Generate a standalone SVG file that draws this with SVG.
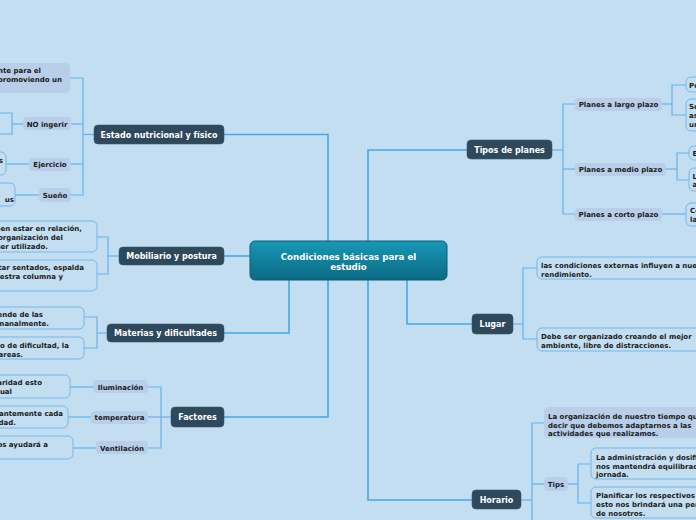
<svg xmlns="http://www.w3.org/2000/svg" width="696" height="520" viewBox="0 0 696 520">
<defs>
<linearGradient id="cg" x1="0" y1="0" x2="0" y2="1">
<stop offset="0" stop-color="#1798b6"/>
<stop offset="1" stop-color="#0b6983"/>
</linearGradient>
<style>
.conn path{fill:none;stroke:#62b3eb;stroke-width:1.2}
.conn path.m{stroke:#45a6ea;stroke-width:1.6}
.topic rect{fill:#2d495b;stroke:#3e5a6c;stroke-width:0.6}
.topic text{fill:#ffffff;font-family:"DejaVu Sans",Verdana,sans-serif;font-weight:bold;font-size:8px;text-anchor:middle}
.sub rect{fill:#b8cee9}
.leaf rect{fill:#c4def1;stroke:#74b8ec;stroke-width:1}
.t{fill:#1b1b1b;font-family:"DejaVu Sans",Verdana,sans-serif;font-weight:bold;font-size:7px}
.c{text-anchor:middle}
.e{text-anchor:end}
</style>
</defs>
<rect width="696" height="520" fill="#c3def0"/>

<g id="connectors" class="conn">
<path class="m" d="M224,134.5 H328 V241"/>
<path class="m" d="M224,256 H250"/>
<path class="m" d="M224,333 H289 V280"/>
<path class="m" d="M224,417 H328 V280"/>
<path class="m" d="M368,241 V150 H467"/>
<path class="m" d="M407,280 V324 H472"/>
<path class="m" d="M368,280 V500 H472"/>
<path d="M94,134.5 H83"/>
<path d="M70,78 H83 V195 H71"/>
<path d="M71,124 H83"/>
<path d="M71,164 H83"/>
<path d="M23,124 H12"/>
<path d="M0,113 H12 V134 H0"/>
<path d="M29,164 H6"/>
<path d="M39,195 H15"/>
<path d="M119,256 H108"/>
<path d="M97,237 H108 V274 H97"/>
<path d="M107,333 H97"/>
<path d="M84,317 H97 V348 H84"/>
<path d="M171,417 H161"/>
<path d="M148,387 H161 V448 H148"/>
<path d="M148,417 H161"/>
<path d="M93,387 H70"/>
<path d="M91,417 H68"/>
<path d="M96,448 H73"/>
<path d="M552,150 H563"/>
<path d="M575,104 H563 V214 H575"/>
<path d="M575,169 H563"/>
<path d="M662,104 H672"/>
<path d="M686,85 H672 V115 H686"/>
<path d="M666,169 H677"/>
<path d="M689,153 H677 V180 H689"/>
<path d="M662,214 H686"/>
<path d="M513,324 H523"/>
<path d="M537,268 H523 V339 H537"/>
<path d="M521,500 H532"/>
<path d="M544,423 H532 V520"/>
<path d="M544,484 H532"/>
<path d="M568,484 H578"/>
<path d="M591,464 H578 V503 H591"/>
</g>

<g id="central">
<rect x="250" y="241" width="197" height="39" rx="5" fill="url(#cg)" stroke="#0d5d75" stroke-width="1"/>
<text x="348.5" y="259.5" fill="#ffffff" font-family="DejaVu Sans, Verdana, sans-serif" font-weight="bold" font-size="8.7" text-anchor="middle">Condiciones básicas para el</text>
<text x="348.5" y="270" fill="#ffffff" font-family="DejaVu Sans, Verdana, sans-serif" font-weight="bold" font-size="8.7" text-anchor="middle">estudio</text>
</g>

<g id="estado" class="topic"><rect x="94" y="125" width="130" height="19" rx="4"/><text x="159" y="137.5">Estado nutricional y físico</text></g>
<g id="mobiliario" class="topic"><rect x="119" y="247" width="105" height="18" rx="4"/><text x="171.5" y="259">Mobiliario y postura</text></g>
<g id="materias" class="topic"><rect x="107" y="324" width="117" height="18" rx="4"/><text x="165.5" y="336">Materias y dificultades</text></g>
<g id="factores" class="topic"><rect x="171" y="407" width="53" height="20" rx="4"/><text x="197.5" y="420">Factores</text></g>
<g id="tipos" class="topic"><rect x="467" y="140" width="85" height="19" rx="4"/><text x="509.5" y="152.5">Tipos de planes</text></g>
<g id="lugar" class="topic"><rect x="472" y="314" width="41" height="20" rx="4"/><text x="492.5" y="327">Lugar</text></g>
<g id="horario" class="topic"><rect x="472" y="490" width="49" height="19" rx="4"/><text x="496.5" y="502.5">Horario</text></g>

<g id="estado-top" class="sub"><rect x="-80" y="63" width="150" height="30" rx="5"/>
<text class="t e" x="41" y="72.5">nte para el</text><text class="t e" x="62" y="81.5">promoviendo un</text></g>
<g id="no-ingerir" class="sub"><rect x="23" y="117" width="48" height="13" rx="4"/><text class="t c" x="47" y="126.5">NO ingerir</text></g>
<g id="ejercicio" class="sub"><rect x="29" y="158" width="42" height="13" rx="4"/><text class="t c" x="50" y="166.5">Ejercicio</text></g>
<g id="sueno" class="sub"><rect x="39" y="188" width="32" height="14" rx="4"/><text class="t c" x="55" y="197.5">Sueño</text></g>
<g id="ejercicio-leaf" class="leaf"><rect x="-40" y="152" width="46" height="23" rx="5"/><text class="t e" x="3" y="162.5">s</text></g>
<g id="sueno-leaf" class="leaf"><rect x="-40" y="183" width="55" height="23" rx="5"/><text class="t e" x="14" y="201.5">us</text></g>

<g id="mob-1" class="leaf"><rect x="-60" y="221" width="157" height="31" rx="5"/>
<text class="t e" x="82" y="230.5">ben estar en relación,</text><text class="t e" x="63" y="239.5">organización del</text><text class="t e" x="48" y="248.5">ser utilizado.</text></g>
<g id="mob-2" class="leaf"><rect x="-60" y="260" width="157" height="31" rx="5"/>
<text class="t e" x="84" y="269.5">tar sentados, espalda</text><text class="t e" x="63" y="278.5">uestra columna y</text></g>

<g id="mat-1" class="leaf"><rect x="-60" y="307" width="144" height="22" rx="5"/>
<text class="t e" x="43" y="316.5">ende de las</text><text class="t e" x="49" y="325.5">manalmente.</text></g>
<g id="mat-2" class="leaf"><rect x="-60" y="337" width="144" height="22" rx="5"/>
<text class="t e" x="69" y="347.5">io de dificultad, la</text><text class="t e" x="23" y="356.5">areas.</text></g>

<g id="iluminacion" class="sub"><rect x="93" y="380" width="55" height="13" rx="4"/><text class="t c" x="120.5" y="389.5">Iluminación</text></g>
<g id="temperatura" class="sub"><rect x="91" y="411" width="57" height="13" rx="4"/><text class="t c" x="119.5" y="420">temperatura</text></g>
<g id="ventilacion" class="sub"><rect x="96" y="441" width="52" height="13" rx="4"/><text class="t c" x="122" y="450.5">Ventilación</text></g>
<g id="fac-a" class="leaf"><rect x="-60" y="375" width="130" height="23" rx="5"/>
<text class="t e" x="42" y="384.5">aridad esto</text><text class="t e" x="12" y="393.5">ual</text></g>
<g id="fac-b" class="leaf"><rect x="-60" y="406" width="128" height="22" rx="5"/>
<text class="t e" x="63" y="415.5">antemente cada</text><text class="t e" x="16" y="424.5">vidad.</text></g>
<g id="fac-c" class="leaf"><rect x="-60" y="436" width="133" height="23" rx="5"/>
<text class="t e" x="48" y="446.5">os ayudará a</text></g>

<g id="largo" class="sub"><rect x="575" y="98" width="87" height="13" rx="4"/><text class="t c" x="618.5" y="107">Planes a largo plazo</text></g>
<g id="medio" class="sub"><rect x="575" y="163" width="91" height="13" rx="4"/><text class="t c" x="620.5" y="172">Planes a medio plazo</text></g>
<g id="corto" class="sub"><rect x="575" y="208" width="87" height="13" rx="4"/><text class="t c" x="618.5" y="217">Planes a corto plazo</text></g>
<g id="largo-1" class="leaf"><rect x="686" y="77" width="60" height="15" rx="5"/><text class="t" x="689" y="87.5">Po</text></g>
<g id="largo-2" class="leaf"><rect x="686" y="99" width="60" height="32" rx="5"/>
<text class="t" x="689" y="108.5">Se</text><text class="t" x="689" y="117.5">as</text><text class="t" x="689" y="126.5">un</text></g>
<g id="medio-1" class="leaf"><rect x="689" y="146" width="60" height="14" rx="5"/><text class="t" x="692.5" y="155.5">E</text></g>
<g id="medio-2" class="leaf"><rect x="689" y="168" width="60" height="23" rx="5"/>
<text class="t" x="692.5" y="178.5">L</text><text class="t" x="692.5" y="187">a</text></g>
<g id="corto-1" class="leaf"><rect x="686" y="203" width="60" height="23" rx="5"/>
<text class="t" x="690" y="212.5">Co</text><text class="t" x="690" y="221.5">la</text></g>

<g id="lugar-1" class="leaf"><rect x="537" y="257" width="200" height="22" rx="5"/>
<text class="t" x="541" y="267.5">las condiciones externas influyen a nuestro</text><text class="t" x="541" y="276.5">rendimiento.</text></g>
<g id="lugar-2" class="leaf"><rect x="537" y="328" width="200" height="23" rx="5"/>
<text class="t" x="541" y="338.5">Debe ser organizado creando el mejor</text><text class="t" x="541" y="347.5">ambiente, libre de distracciones.</text></g>

<g id="horario-1" class="sub"><rect x="544" y="407" width="200" height="31" rx="5"/>
<text class="t" x="548" y="418.5">La organización de nuestro tiempo qu</text><text class="t" x="548" y="427.5">decir que debemos adaptarnos a las</text><text class="t" x="548" y="436">actividades que realizamos.</text></g>
<g id="tips" class="sub"><rect x="544" y="477" width="24" height="14" rx="4"/><text class="t c" x="556" y="486.5">Tips</text></g>
<g id="tips-1" class="leaf"><rect x="591" y="448" width="150" height="31" rx="5"/>
<text class="t" x="596" y="459.5">La administración y dosifi</text><text class="t" x="596" y="468.5">nos mantendrá equilibrad</text><text class="t" x="596" y="477">jornada.</text></g>
<g id="tips-2" class="leaf"><rect x="591" y="487" width="150" height="31" rx="5"/>
<text class="t" x="596" y="497.5">Planificar los respectivos</text><text class="t" x="596" y="506.5">esto nos brindará una per</text><text class="t" x="596" y="515.5">de nosotros.</text></g>
</svg>
